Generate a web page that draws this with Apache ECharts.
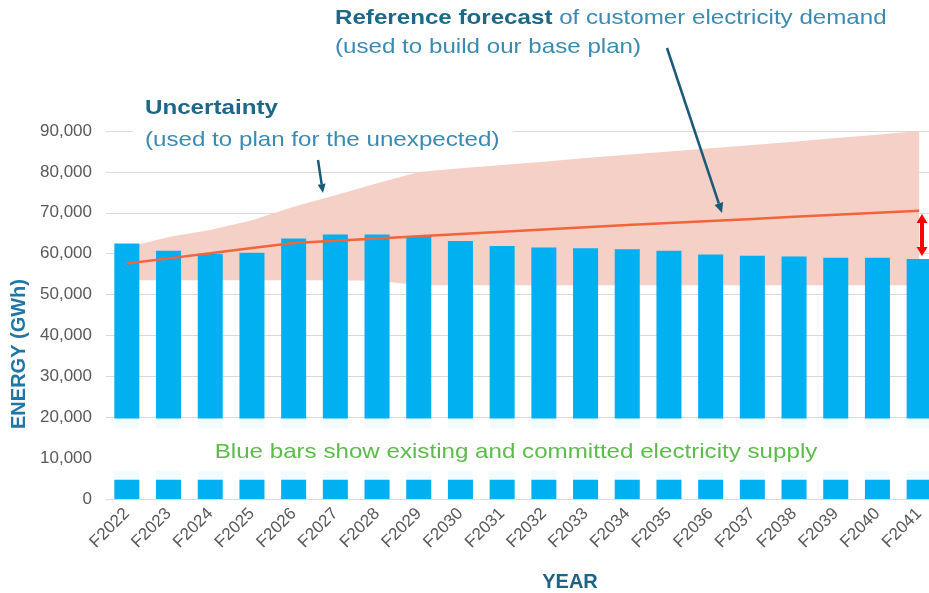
<!DOCTYPE html>
<html><head><meta charset="utf-8">
<script src="https://cdn.jsdelivr.net/npm/echarts@6/dist/echarts.min.js"></script>
<style>html,body{margin:0;padding:0;background:#fff}#c{width:929px;height:593px}</style>
</head><body><div id="c"></div>
<script>
const categories = ['F2022','F2023','F2024','F2025','F2026','F2027','F2028','F2029','F2030','F2031',
  'F2032','F2033','F2034','F2035','F2036','F2037','F2038','F2039','F2040','F2041'];
const supply = [62500, 60700, 60000, 60200, 63700, 64700, 64700, 64300, 63100, 61900,
  61500, 61300, 61100, 60700, 59800, 59500, 59300, 59000, 59000, 58700];
const forecast = [57600, 58850, 60100, 61400, 62600, 63150, 63700, 64250, 64800, 65350,
  65900, 66450, 67000, 67500, 68000, 68500, 69000, 69500, 70000, 70500];
const bandLower = [53500, 53500, 53500, 53500, 53500, 53500, 53400, 52300, 52300, 52300,
  52300, 52300, 52300, 52300, 52300, 52300, 52300, 52300, 52300, 52300];
const bandUpper = [61500, 64100, 65800, 68200, 71500, 74300, 77200, 80000, 80900, 81700,
  82500, 83400, 84200, 85000, 85800, 86600, 87400, 88300, 89100, 90000];
const yTicks = [0, 10000, 20000, 30000, 40000, 50000, 60000, 70000, 80000, 90000];
// value range hidden behind the white caption strip: [from, to, opacity]
const captionStrip = [[4700, 19700, 0.95], [6800, 17400, 1]];

const bandSpan = bandUpper.map((u, i) => u - bandLower[i]);
const FONT = '"Liberation Sans", Arial, Helvetica, sans-serif';
const DARK = '#1D6788', LIGHT = '#3A8AB2', ARROW = '#1A5A78';

function arrow(x1, y1, x2, y2, color, w, hl, hw) {
  const dx = x2 - x1, dy = y2 - y1, L = Math.hypot(dx, dy);
  const ux = dx / L, uy = dy / L, px = -uy, py = ux;
  const bx = x2 - ux * hl, by = y2 - uy * hl;
  return [
    {type: 'line', shape: {x1: x1, y1: y1, x2: bx, y2: by}, style: {stroke: color, lineWidth: w}, z: 100},
    {type: 'polygon', shape: {points: [[x2, y2], [bx + px * hw / 2, by + py * hw / 2], [bx - px * hw / 2, by - py * hw / 2]]},
      style: {fill: color}, z: 100}
  ];
}
function txt(x, y, text, opts) {
  return Object.assign({
    type: 'text', x: x, y: y, z: 110,
    style: Object.assign({text: text, fontFamily: FONT, fontSize: 21, fill: LIGHT,
      align: 'left', verticalAlign: 'middle', textAlign: 'left', textVerticalAlign: 'middle'}, opts.style || {})
  }, opts.el || {});
}

const chart = echarts.init(document.getElementById('c'), null, {renderer: 'canvas'});

const graphics = [
  {type: 'rect', shape: {x: 133, y: 126, width: 380, height: 10}, style: {fill: '#fff'}, z: 90},
  txt(145, 108, 'Uncertainty', {style: {fontWeight: 'bold', fill: DARK}, el: {scaleX: 1.15}}),
  txt(145, 140, '(used to plan for the unexpected)', {el: {scaleX: 1.15}}),
  txt(335, 18, '{b|Reference forecast} of customer electricity demand', {
    style: {rich: {b: {fontWeight: 'bold', fill: DARK, color: DARK, fontSize: 21, fontFamily: FONT}}},
    el: {scaleX: 1.15}}),
  txt(335, 47, '(used to build our base plan)', {el: {scaleX: 1.15}}),
  txt(516, 452, 'Blue bars show existing and committed electricity supply', {
    style: {fill: '#5CBB4A', align: 'center', textAlign: 'center'}, el: {scaleX: 1.15}})
].concat(
  arrow(318, 160, 323, 193, ARROW, 2.5, 9, 8),
  arrow(667, 48, 722, 213, ARROW, 2.5, 10, 9),
  arrow(922, 236, 922, 214, '#FF0000', 4, 9, 11),
  arrow(922, 234, 922, 256, '#FF0000', 4, 9, 11)
);

chart.setOption({
  animation: false,
  backgroundColor: '#fff',
  grid: {left: 106, right: -11, top: 131, bottom: 94, containLabel: false, outerBoundsMode: 'none'},
  xAxis: {
    type: 'category', data: categories,
    name: 'YEAR', nameLocation: 'middle', nameGap: 73,
    nameTextStyle: {fontFamily: FONT, fontSize: 20, fontWeight: 'bold', color: '#1E6284', padding: [0, 0, 0, 94]},
    axisLine: {show: true, lineStyle: {color: '#D9D9D9', width: 1}},
    axisTick: {show: false},
    axisLabel: {rotate: 45, margin: 12, fontFamily: FONT, fontSize: 17, color: '#595959', interval: 0}
  },
  yAxis: {
    type: 'value', min: yTicks[0], max: yTicks[yTicks.length - 1], interval: yTicks[1] - yTicks[0],
    name: 'ENERGY (GWh)', nameLocation: 'middle', nameGap: 74,
    nameTextStyle: {fontFamily: FONT, fontSize: 20, fontWeight: 'bold', color: '#1F77A8', padding: [0, 78, 0, 0]},
    axisLine: {show: false}, axisTick: {show: false},
    axisLabel: {margin: 14, fontFamily: FONT, fontSize: 17, color: '#595959',
      formatter: v => v.toLocaleString('en-US')},
    splitLine: {lineStyle: {color: '#D9D9D9', width: 1}}
  },
  series: [
    {name: 'band-base', type: 'line', data: bandLower, stack: 'band', symbol: 'none', silent: true,
      lineStyle: {width: 0, opacity: 0}, z: 1},
    {name: 'Uncertainty', type: 'line', data: bandSpan, stack: 'band', symbol: 'none', silent: true,
      lineStyle: {width: 0, opacity: 0}, areaStyle: {color: '#F5D0C7', opacity: 1}, z: 1},
    {name: 'Supply', type: 'bar', data: supply, barWidth: '60%', itemStyle: {color: '#00B0F0'}, z: 2},
    {name: 'Reference forecast', type: 'line', data: forecast, symbol: 'none',
      lineStyle: {color: '#F2643A', width: 2.5}, z: 4},
    {name: 'caption-strip', type: 'custom', data: captionStrip, silent: true, z: 5,
      encode: {x: -1, y: [0, 1]},
      renderItem: function (params, api) {
        const cs = params.coordSys;
        const yTop = api.coord([0, api.value(1)])[1];
        const yBot = api.coord([0, api.value(0)])[1];
        return {type: 'rect', shape: {x: cs.x, y: yTop, width: cs.width, height: yBot - yTop},
          style: {fill: '#ffffff', opacity: api.value(2)}};
      }}
  ],
  graphic: graphics
});
</script></body></html>
